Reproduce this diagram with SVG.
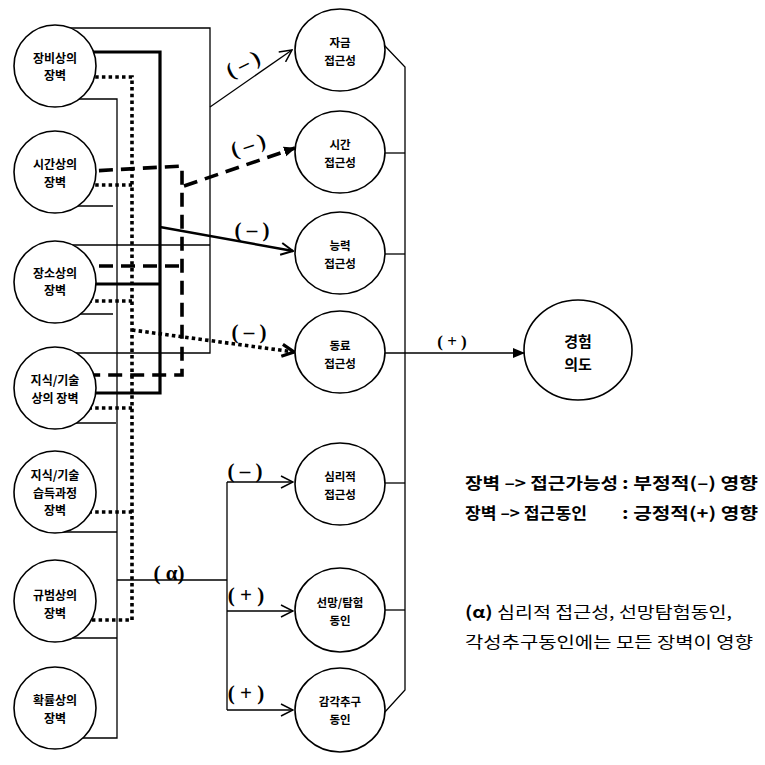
<svg xmlns="http://www.w3.org/2000/svg" width="765" height="765" viewBox="0 0 765 765">
<style>
  .bg{fill:#fff}
  .node{fill:#fff;stroke:#000;stroke-width:1.6}
  .nl{font-family:"Noto Sans CJK KR","Noto Sans",sans-serif;font-weight:bold;font-size:12px;text-anchor:middle;fill:#000}
  .ml{font-family:"Noto Sans CJK KR","Noto Sans",sans-serif;font-weight:bold;font-size:11.5px;text-anchor:middle;fill:#000}
  .thin{fill:none;stroke:#000;stroke-width:1.3}
  .thick{fill:none;stroke:#000;stroke-width:3.2}
  .dash{fill:none;stroke:#000;stroke-width:3.6;stroke-dasharray:14 8}
  .dot{fill:none;stroke:#000;stroke-width:3.6;stroke-dasharray:3.5 3.2}
  .sg{font-family:"Liberation Serif",serif;font-weight:bold;font-size:21px;text-anchor:middle;fill:#000}
  .lg{font-family:"Noto Sans CJK KR","Noto Sans",sans-serif;font-weight:bold;font-size:16px;fill:#000}
  .lr{font-family:"Noto Sans CJK KR","Noto Sans",sans-serif;font-size:16px;fill:#000}
</style>
<defs>
  <marker id="aOpen" viewBox="0 0 14 14" refX="13" refY="7" markerWidth="14" markerHeight="14" markerUnits="userSpaceOnUse" orient="auto">
    <path d="M1,1 L13,7 L1,13" fill="none" stroke="#000" stroke-width="1.5" stroke-dasharray="none"/>
  </marker>
  <marker id="aOpenB" viewBox="0 0 14 14" refX="13" refY="7" markerWidth="14" markerHeight="14" markerUnits="userSpaceOnUse" orient="auto">
    <path d="M1,1 L13,7 L1,13" fill="none" stroke="#000" stroke-width="2" stroke-dasharray="none"/>
  </marker>
  <marker id="aFill" viewBox="0 0 12 12" refX="11" refY="6" markerWidth="12" markerHeight="12" markerUnits="userSpaceOnUse" orient="auto">
    <path d="M0,1 L12,6 L0,11 Z" fill="#000" stroke="none"/>
  </marker>
  <marker id="aDot" viewBox="0 0 16 16" refX="14" refY="8" markerWidth="16" markerHeight="16" markerUnits="userSpaceOnUse" orient="auto">
    <path d="M2,2 L14,8 L2,14" fill="none" stroke="#000" stroke-width="3.2" stroke-dasharray="none"/>
  </marker>
  <marker id="aSmall" viewBox="0 0 12 10" refX="11" refY="5" markerWidth="12" markerHeight="10" markerUnits="userSpaceOnUse" orient="auto">
    <path d="M0,0 L12,5 L0,10 Z" fill="#000" stroke="none"/>
  </marker>
</defs>
<rect class="bg" x="0" y="0" width="765" height="765"/>

<g id="connectors">
  <polyline class="thin" points="55,28 210,28 210,353 55,353"/>
  <line class="thin" x1="55" y1="245" x2="210" y2="245"/>
  <line class="thin" x1="210" y1="107" x2="292" y2="50" marker-end="url(#aOpen)"/>
  <polyline class="thin" points="55,99 117,99 117,738 55,738"/>
  <line class="thin" x1="55" y1="206" x2="113" y2="206"/>
  <line class="thin" x1="55" y1="314" x2="113" y2="314"/>
  <line class="thin" x1="55" y1="423" x2="116" y2="423"/>
  <line class="thin" x1="55" y1="532" x2="117" y2="532"/>
  <line class="thin" x1="55" y1="638" x2="117" y2="638"/>
  <line class="thin" x1="117" y1="580" x2="227" y2="580"/>
  <line class="thin" x1="227" y1="482" x2="227" y2="710"/>
  <line class="thin" x1="227" y1="482" x2="293" y2="482" marker-end="url(#aOpen)"/>
  <line class="thin" x1="227" y1="611" x2="293" y2="611" marker-end="url(#aOpen)"/>
  <line class="thin" x1="227" y1="710" x2="293" y2="710" marker-end="url(#aOpen)"/>
  <polyline class="thick" points="55,52 160,52 160,393 55,393"/>
  <line class="thick" x1="55" y1="284" x2="160" y2="284"/>
  <line class="thin" style="stroke-width:2.4" x1="160" y1="227" x2="293" y2="251" marker-end="url(#aOpenB)"/>
  <polyline class="dash" points="55,173 182,166 182,375 55,375"/>
  <line class="dash" x1="55" y1="266" x2="182" y2="266"/>
  <line class="dash" x1="184" y1="186" x2="295" y2="148" marker-end="url(#aFill)"/>
  <polyline class="dot" points="55,77 132,77 132,620 55,620"/>
  <line class="dot" x1="55" y1="185" x2="132" y2="185"/>
  <line class="dot" x1="55" y1="301" x2="132" y2="301"/>
  <line class="dot" x1="55" y1="408" x2="132" y2="408"/>
  <line class="dot" x1="55" y1="512" x2="132" y2="512"/>
  <line class="dot" x1="132" y1="330" x2="294" y2="352" marker-end="url(#aDot)"/>
  <polyline class="thin" points="384,45 405,67 405,690 384,713"/>
  <line class="thin" x1="385" y1="153" x2="405" y2="153"/>
  <line class="thin" x1="385" y1="254" x2="405" y2="254"/>
  <line class="thin" x1="385" y1="483" x2="405" y2="483"/>
  <line class="thin" x1="385" y1="610" x2="405" y2="610"/>
  <line class="thin" style="stroke-width:1.6" x1="385" y1="353" x2="524" y2="353" marker-end="url(#aSmall)"/>
  <text class="sg" transform="translate(243,64) rotate(-27)" y="7">( – )</text>
  <text class="sg" transform="translate(248,145) rotate(-18)" y="7">( – )</text>
  <text class="sg" x="252" y="237">( – )</text>
  <text class="sg" x="249" y="339">( – )</text>
  <text class="sg" x="452" y="347" style="font-size:17px">( + )</text>
  <text class="sg" x="245" y="478">( – )</text>
  <text class="sg" x="169" y="580">( α)</text>
  <text class="sg" x="246" y="602">( + )</text>
  <text class="sg" x="246" y="700">( + )</text>
</g>

<g id="n-jangbi"><circle class="node" cx="55" cy="66" r="41"/><text class="nl" x="55" y="62.5">장비상의<tspan x="55" dy="17.6">장벽</tspan></text></g>
<g id="n-sigan"><circle class="node" cx="55" cy="172" r="41"/><text class="nl" x="55" y="169">시간상의<tspan x="55" dy="17.6">장벽</tspan></text></g>
<g id="n-jangso"><circle class="node" cx="55" cy="282" r="41"/><text class="nl" x="55" y="277.5">장소상의<tspan x="55" dy="17.6">장벽</tspan></text></g>
<g id="n-jisik"><circle class="node" cx="55" cy="388" r="41"/><text class="nl" x="55" y="385">지식/기술<tspan x="55" dy="17.6">상의 장벽</tspan></text></g>
<g id="n-seupdeuk"><circle class="node" cx="55" cy="492" r="41"/><text class="nl" x="55" y="480">지식/기술<tspan x="55" dy="17.6">습득과정</tspan><tspan x="55" dy="17.6">장벽</tspan></text></g>
<g id="n-gyubeom"><circle class="node" cx="55" cy="601" r="41"/><text class="nl" x="55" y="600">규범상의<tspan x="55" dy="17.6">장벽</tspan></text></g>
<g id="n-hwakryul"><circle class="node" cx="55" cy="708" r="41"/><text class="nl" x="55" y="705">확률상의<tspan x="55" dy="17.6">장벽</tspan></text></g>

<g id="n-jageum"><ellipse class="node" cx="340" cy="50" rx="45" ry="41"/><text class="ml" x="340" y="47">자금<tspan x="340" dy="18">접근성</tspan></text></g>
<g id="n-sigan2"><ellipse class="node" cx="340" cy="152" rx="45" ry="41"/><text class="ml" x="340" y="149">시간<tspan x="340" dy="18">접근성</tspan></text></g>
<g id="n-neungryeok"><ellipse class="node" cx="340" cy="253" rx="45" ry="41"/><text class="ml" x="340" y="250">능력<tspan x="340" dy="18">접근성</tspan></text></g>
<g id="n-dongryo"><ellipse class="node" cx="340" cy="352" rx="45" ry="41"/><text class="ml" x="340" y="350">동료<tspan x="340" dy="18">접근성</tspan></text></g>
<g id="n-simri"><ellipse class="node" cx="340" cy="484" rx="45" ry="41"/><text class="ml" x="340" y="481">심리적<tspan x="340" dy="17.5">접근성</tspan></text></g>
<g id="n-seonmang"><ellipse class="node" cx="340" cy="610" rx="45" ry="42"/><text class="ml" x="340" y="607">선망/탐험<tspan x="340" dy="18">동인</tspan></text></g>
<g id="n-gamgak"><ellipse class="node" cx="340" cy="710" rx="45" ry="42"/><text class="ml" x="340" y="706">감각추구<tspan x="340" dy="18">동인</tspan></text></g>

<g id="n-gyeongheom"><ellipse class="node" cx="578" cy="350" rx="54" ry="50"/><text class="nl" style="font-size:15px" x="578" y="347">경험<tspan x="578" dy="23">의도</tspan></text></g>

<g id="legend">
  <text class="lg" x="465" y="489" textLength="153" lengthAdjust="spacingAndGlyphs">장벽 –&gt; 접근가능성</text>
  <text class="lg" x="622" y="489" textLength="136" lengthAdjust="spacingAndGlyphs">: 부정적(–) 영향</text>
  <text class="lg" x="465" y="519" textLength="122" lengthAdjust="spacingAndGlyphs">장벽 –&gt; 접근동인</text>
  <text class="lg" x="622" y="519" textLength="136" lengthAdjust="spacingAndGlyphs">: 긍정적(+) 영향</text>
  <text class="lr" x="465" y="618" textLength="267" lengthAdjust="spacingAndGlyphs"><tspan font-weight="bold">(α)</tspan> 심리적 접근성, 선망탐험동인,</text>
  <text class="lr" x="465" y="648" textLength="288" lengthAdjust="spacingAndGlyphs">각성추구동인에는 모든 장벽이 영향</text>
</g>
</svg>
